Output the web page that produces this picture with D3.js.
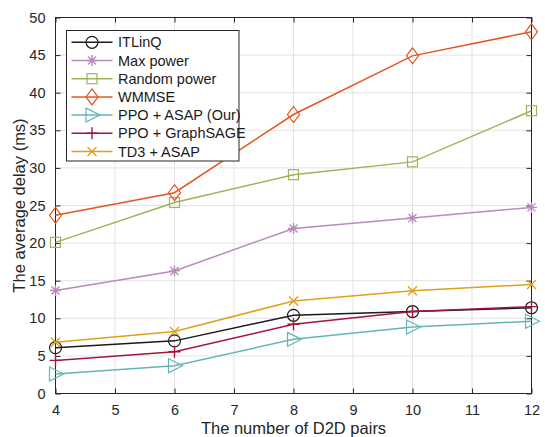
<!DOCTYPE html>
<html>
<head>
<meta charset="utf-8">
<script src="https://cdn.jsdelivr.net/npm/d3@7"></script>
<style>
  body { margin: 0; background: #fff; }
  svg { font-family: "Liberation Sans", Arial, sans-serif; }
</style>
</head>
<body>
<svg id="chart" width="545" height="437"></svg>
<script>
    // data
    var pairs = [4, 6, 8, 10, 12];
    var itlinq = [6.1, 7.0, 10.4, 10.9, 11.4];
    var maxPower = [13.7, 16.3, 21.95, 23.35, 24.75];
    var randomPower = [20.1, 25.4, 29.1, 30.8, 37.6];
    var wmmse = [23.7, 26.7, 37.1, 44.9, 48.1];
    var ppoAsap = [2.6, 3.7, 7.2, 8.85, 9.6];
    var ppoSage = [4.4, 5.55, 9.2, 10.9, 11.55];
    var td3Asap = [6.8, 8.25, 12.3, 13.65, 14.5];
    var xTicks = [4, 5, 6, 7, 8, 9, 10, 11, 12];
    var yTicks = [0, 5, 10, 15, 20, 25, 30, 35, 40, 45, 50];

    var series = [
        {name: 'ITLinQ', values: itlinq, color: '#1a1a1a', marker: 'circle'},
        {name: 'Max power', values: maxPower, color: '#b98bbb', marker: 'star'},
        {name: 'Random power', values: randomPower, color: '#9cb45a', marker: 'square'},
        {name: 'WMMSE', values: wmmse, color: '#e3571f', marker: 'diamond'},
        {name: 'PPO + ASAP (Our)', values: ppoAsap, color: '#63b5b9', marker: 'triangle'},
        {name: 'PPO + GraphSAGE', values: ppoSage, color: '#a3163a', marker: 'plus'},
        {name: 'TD3 + ASAP', values: td3Asap, color: '#e0a11a', marker: 'cross'}
    ];

    var margin = {top: 17.5, right: 13.5, bottom: 43.5, left: 55.5};
    var width = 545 - margin.left - margin.right,
        height = 437 - margin.top - margin.bottom;

    var svg = d3.select('#chart');
    var g = svg.append('g').attr('transform', 'translate(' + margin.left + ',' + margin.top + ')');

    var x = d3.scaleLinear().domain([4, 12]).range([0, width]);
    var y = d3.scaleLinear().domain([0, 50]).range([height, 0]);

    // grid
    g.append('g').selectAll('line').data(xTicks).enter().append('line')
        .attr('x1', function (d) { return x(d); }).attr('x2', function (d) { return x(d); })
        .attr('y1', 0).attr('y2', height)
        .attr('stroke', '#e3e3e3').attr('stroke-width', 1);
    g.append('g').selectAll('line').data(yTicks).enter().append('line')
        .attr('y1', function (d) { return y(d); }).attr('y2', function (d) { return y(d); })
        .attr('x1', 0).attr('x2', width)
        .attr('stroke', '#e3e3e3').attr('stroke-width', 1);

    // axes, ticks pointing inward
    function styleAxis(sel) {
        sel.select('.domain').remove();
        sel.selectAll('line').attr('stroke', '#262626');
        sel.selectAll('text').attr('fill', '#262626').style('font-size', '14.5px');
    }
    g.append('g').attr('transform', 'translate(0,' + height + ')')
        .call(d3.axisBottom(x).tickValues(xTicks).tickSizeInner(-5).tickSizeOuter(0).tickPadding(11))
        .call(styleAxis);
    g.append('g')
        .call(d3.axisTop(x).tickValues(xTicks).tickSizeInner(-5).tickSizeOuter(0).tickFormat(''))
        .call(styleAxis);
    g.append('g')
        .call(d3.axisLeft(y).tickValues(yTicks).tickSizeInner(-5).tickSizeOuter(0).tickPadding(10))
        .call(styleAxis);
    g.append('g').attr('transform', 'translate(' + width + ',0)')
        .call(d3.axisRight(y).tickValues(yTicks).tickSizeInner(-5).tickSizeOuter(0).tickFormat(''))
        .call(styleAxis);
    g.append('rect').attr('width', width).attr('height', height)
        .attr('fill', 'none').attr('stroke', '#262626').attr('stroke-width', 1);

    // axis labels
    svg.append('text').attr('x', margin.left + width / 2).attr('y', 434)
        .attr('text-anchor', 'middle').attr('fill', '#262626').style('font-size', '16.5px')
        .text('The number of D2D pairs');
    svg.append('text').attr('transform', 'translate(25,' + (margin.top + height / 2) + ') rotate(-90)')
        .attr('text-anchor', 'middle').attr('fill', '#262626').style('font-size', '16.5px')
        .text('The average delay (ms)');

    function drawMarker(sel, type, color) {
        var s = 5.5;
        if (type === 'circle') {
            sel.append('circle').attr('r', 6).attr('fill', 'none').attr('stroke', color).attr('stroke-width', 1.2);
        } else if (type === 'square') {
            sel.append('rect').attr('x', -5).attr('y', -5).attr('width', 10).attr('height', 10)
                .attr('fill', 'none').attr('stroke', color).attr('stroke-width', 1.2);
        } else if (type === 'diamond') {
            sel.append('path').attr('d', 'M0,-8L6,0L0,8L-6,0Z')
                .attr('fill', 'none').attr('stroke', color).attr('stroke-width', 1.2);
        } else if (type === 'triangle') {
            sel.append('path').attr('d', 'M-6,-7L8,0L-6,7Z')
                .attr('fill', 'none').attr('stroke', color).attr('stroke-width', 1.2);
        } else if (type === 'plus') {
            sel.append('path').attr('d', 'M-6,0H6M0,-6V6')
                .attr('stroke', color).attr('stroke-width', 1.4);
        } else if (type === 'cross') {
            sel.append('path').attr('d', 'M-4.5,-4.5L4.5,4.5M-4.5,4.5L4.5,-4.5')
                .attr('stroke', color).attr('stroke-width', 1.4);
        } else if (type === 'star') {
            sel.append('path').attr('d', 'M-' + s + ',0H' + s + 'M0,-' + s + 'V' + s +
                'M-4,-4L4,4M-4,4L4,-4')
                .attr('stroke', color).attr('stroke-width', 1.4);
        }
    }

    var line = d3.line()
        .x(function (d, i) { return x(pairs[i]); })
        .y(function (d) { return y(d); });

    series.forEach(function (s) {
        var sg = g.append('g');
        sg.append('path').datum(s.values).attr('d', line)
            .attr('fill', 'none').attr('stroke', s.color).attr('stroke-width', 1.5);
        s.values.forEach(function (v, i) {
            var mg = sg.append('g').attr('transform', 'translate(' + x(pairs[i]) + ',' + y(v) + ')');
            drawMarker(mg, s.marker, s.color);
        });
    });

    // legend
    var legend = svg.append('g').attr('transform', 'translate(66.5,30.5)');
    legend.append('rect').attr('width', 172.5).attr('height', 130.5)
        .attr('fill', '#fff').attr('stroke', '#262626').attr('stroke-width', 1);
    series.forEach(function (s, i) {
        var row = legend.append('g').attr('transform', 'translate(0,' + (11.8 + i * 18.2) + ')');
        row.append('line').attr('x1', 5).attr('x2', 46).attr('y1', 0).attr('y2', 0)
            .attr('stroke', s.color).attr('stroke-width', 1.5);
        var mg = row.append('g').attr('transform', 'translate(25.5,0)');
        drawMarker(mg, s.marker, s.color);
        row.append('text').attr('x', 51.5).attr('y', 0).attr('dy', '0.35em')
            .attr('fill', '#1a1a1a').style('font-size', '14.5px').text(s.name);
    });
</script>
</body>
</html>
